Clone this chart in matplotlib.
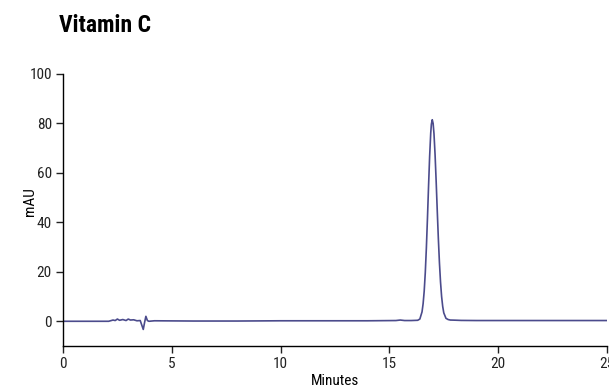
import matplotlib
matplotlib.use("Agg")
from matplotlib import pyplot as plt

plt.rcParams['font.family'] = ['Roboto Condensed', 'DejaVu Sans']

# retention time (min) and absorbance (mAU)
minutes = [0.0, 1.0, 2.1, 2.3, 2.4, 2.5, 2.6, 2.75, 2.9, 3.0, 3.1, 3.25, 3.4, 3.55,
           3.62, 3.69, 3.75, 3.81, 3.88, 3.95, 4.2, 6.0, 8.0, 10.0, 12.0, 14.0,
           15.3, 15.5, 15.7, 16.0, 16.3, 16.4, 16.5, 16.55, 16.6, 16.65, 16.7,
           16.75, 16.8, 16.85, 16.9, 16.93, 16.97, 17.01, 17.05, 17.1, 17.15,
           17.2, 17.25, 17.3, 17.35, 17.4, 17.45, 17.5, 17.6, 17.7, 17.8, 18.0,
           18.3, 19.0, 21.0, 23.0, 25.0]
mau = [0.0, 0.0, 0.0, 0.5, 0.3, 0.9, 0.4, 0.7, 0.3, 0.9, 0.5, 0.6, 0.2, 0.3,
       -1.5, -3.3, -0.5, 2.0, 0.3, 0.0, 0.2, 0.1, 0.1, 0.2, 0.2, 0.2,
       0.3, 0.5, 0.3, 0.3, 0.4, 0.9, 3.8, 7.1, 12.2, 19.7, 29.7,
       41.7, 54.6, 66.7, 76.1, 79.7, 81.5, 80.0, 75.8, 67.3, 56.5,
       44.7, 33.5, 23.7, 15.9, 10.0, 6.0, 3.4, 1.2, 0.7, 0.5, 0.45,
       0.35, 0.3, 0.3, 0.3, 0.3]

x_ticks = [0, 5, 10, 15, 20, 25]
y_ticks = [0, 20, 40, 60, 80, 100]

fig = plt.figure(figsize=(6.09, 3.90), dpi=100)
ax = fig.add_axes([0.1034, 0.1128, 0.8933, 0.6975])
ax.plot(minutes, mau, color='#4B4B8C', linewidth=1.2)

ax.set_xlim(0, 25)
ax.set_ylim(-10, 100)
ax.set_xticks(x_ticks)
ax.set_yticks(y_ticks)
ax.tick_params(labelsize=11, length=5, width=1, direction='out', colors='#222222', pad=3)
ax.spines['top'].set_visible(False)
ax.spines['right'].set_visible(False)
ax.spines['left'].set_linewidth(1)
ax.spines['bottom'].set_linewidth(1)
ax.set_xlabel('Minutes', fontsize=11, labelpad=2)
ax.set_ylabel('mAU', fontsize=11)
# mAU sits tucked in beside the two-digit tick labels
ax.yaxis.set_label_coords(-0.048, 0.53)

fig.text(0.097, 0.935, 'Vitamin C', fontsize=17, fontweight='bold', va='center', ha='left')

fig.savefig('out.png', dpi=100)
